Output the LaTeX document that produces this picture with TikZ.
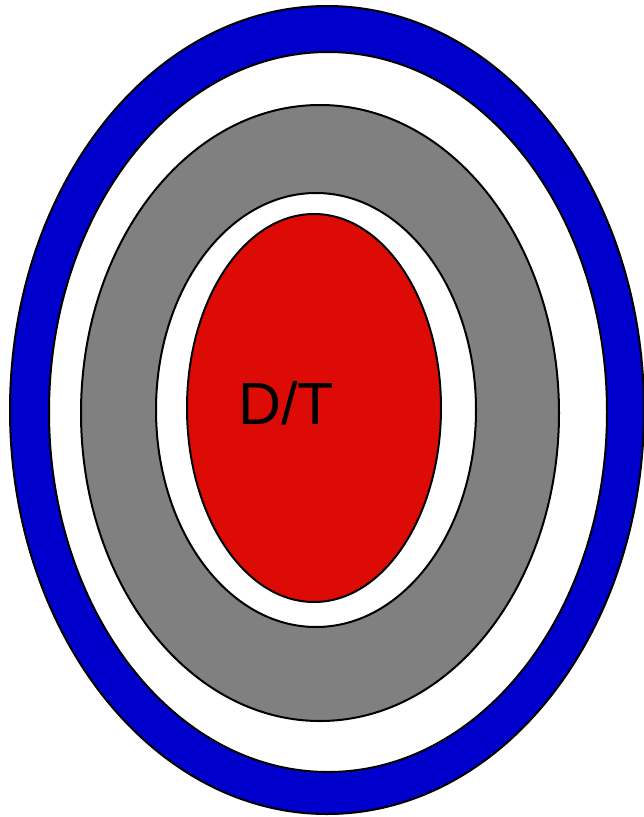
\documentclass[tikz,border=0pt]{standalone}
\usepackage{fontspec}
\newfontfamily\labelfont{Liberation Sans}
\definecolor{ringblue}{RGB}{0,0,204}
\definecolor{corered}{RGB}{221,11,6}
\definecolor{shellgray}{RGB}{128,128,128}
\tikzset{ring/.style={draw=black,line width=2pt}}

\begin{document}
\begin{tikzpicture}[x=1pt,y=-1pt]
  \useasboundingbox (0,0) rectangle (643,817);
  % centre x, centre y, x radius, y radius, fill; outermost first.
  \foreach \cx/\cy/\rx/\ry/\col in {327/410/317/404/ringblue,
      328/412/279/360/white, 320/413/239/308/shellgray,
      316/410/160/217/white, 314/408/127/194/corered}{
    \draw[ring,fill=\col] (\cx,\cy) ellipse [x radius=\rx, y radius=\ry];
  }
  \node[font=\labelfont\fontsize{59.5}{60}\selectfont,anchor=base,inner sep=0pt]
    (dt) at (286,424) {D/T};
\end{tikzpicture}
\end{document}
